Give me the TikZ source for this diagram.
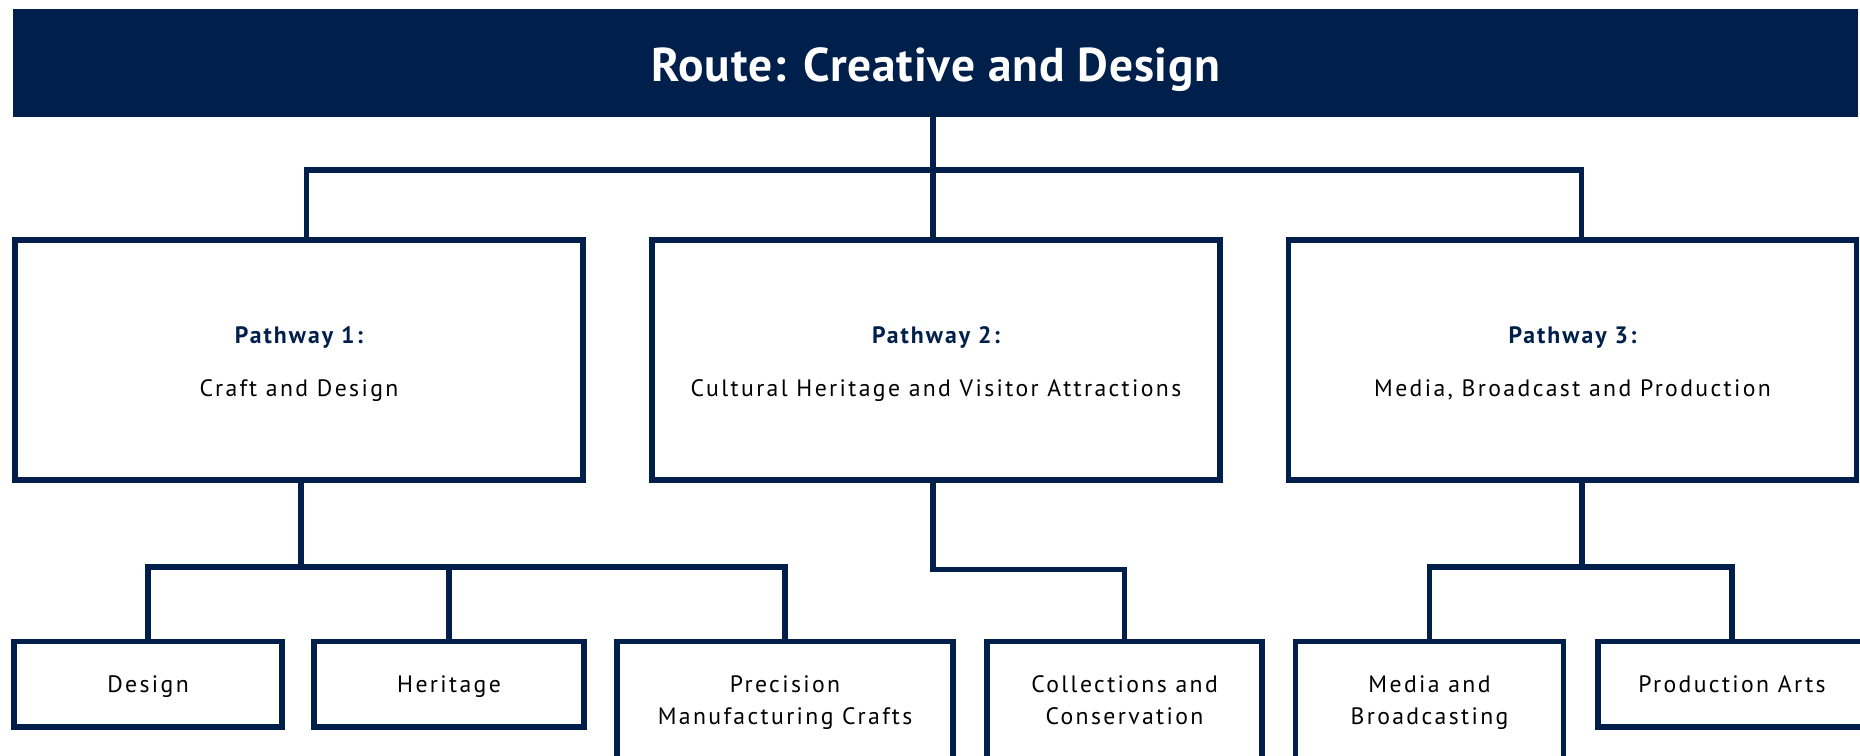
\documentclass[tikz,border=0pt]{standalone}
\usepackage{fontspec}
\setmainfont{PT Sans}
\newfontfamily\routefont[LetterSpace=1.8]{PT Sans}
\newfontfamily\boxfont[LetterSpace=10]{PT Sans}
\newfontfamily\headfont[LetterSpace=8.5]{PT Sans}
\usetikzlibrary{positioning}
\definecolor{navy}{RGB}{0,31,75}
\tikzset{
  banner/.style={fill=navy, minimum width=36.9cm, minimum height=2.16cm},
  bannertext/.style={anchor=base, text=white, font=\routefont\fontsize{27}{32}\selectfont\bfseries},
  pathbox/.style={draw=navy, line width=3pt, minimum width=11.36cm, minimum height=4.8cm},
  headtext/.style={anchor=base, text=navy, font=\headfont\fontsize{13.5}{16}\selectfont\bfseries},
  nametext/.style={anchor=base, font=\boxfont\fontsize{13.5}{16}\selectfont},
  leafbox/.style={draw=navy, line width=3pt, anchor=north, minimum width=5.36cm, minimum height=1.72cm},
  tallbox/.style={leafbox, minimum height=2.35cm},
  leaftext/.style={anchor=base, align=center, font=\boxfont\fontsize{13.5}{18}\selectfont},
  link/.style={navy, line width=3pt}}

\begin{document}
\begin{tikzpicture}[x=0.02cm, y=-0.02cm]
\clip (0,0) rectangle (1860,755);
\fill[white] (0,0) rectangle (1860,755);

% route heading
\node[banner] (route) at (935.5,63) {};
\node[bannertext] (routetxt) at (936,81) {Route: Creative and Design};

% pathways
\node[pathbox] (p1) at (299,360) {};
\node[pathbox] (p2) at (936,360) {};
\node[pathbox] (p3) at (1572.5,360) {};
\node[headtext] (p1head) at (299,343) {Pathway 1:};
\node[headtext] (p2head) at (936,343) {Pathway 2:};
\node[headtext] (p3head) at (1572.5,343) {Pathway 3:};
\node[nametext] (p1name) at (299,396) {Craft and Design};
\node[nametext] (p2name) at (936,396) {Cultural Heritage and Visitor Attractions};
\node[nametext] (p3name) at (1572.5,396) {Media, Broadcast and Production};

% occupational specialisms
\node[leafbox] (design) at (148,638.5) {};
\node[leafbox, minimum width=5.4cm] (heritage) at (449,638.5) {};
\node[tallbox, minimum width=6.72cm] (precision) at (785,638.5) {};
\node[tallbox, minimum width=5.5cm] (collections) at (1124.5,638.5) {};
\node[tallbox] (media) at (1429.5,638.5) {};
\node[leafbox] (prodarts) at (1732,638.5) {};

% base of a two-line label sits on its last line
\node[leaftext] (designtxt) at (148,692) {Design};
\node[leaftext] (heritagetxt) at (449,692) {Heritage};
\node[leaftext] (precisiontxt) at (785,724) {Precision\\Manufacturing Crafts};
\node[leaftext] (collectionstxt) at (1124.5,724) {Collections and\\Conservation};
\node[leaftext] (mediatxt) at (1429.5,724) {Media and\\Broadcasting};
\node[leaftext] (prodartstxt) at (1732,692) {Production Arts};

\coordinate (topbus) at (933,170);
\coordinate (p1bus) at (301,567);
\coordinate (p3bus) at (1582,567);

\draw[link] (route.south -| topbus) -- (topbus |- p2.north);
\draw[link] ([xshift=4.4pt]p1.north) |- (topbus) -| ([xshift=5.1pt]p3.north);

\draw[link] (p1.south -| p1bus) -- (p1bus);
\draw[link] (design.north) |- (p1bus) -| (precision.north);
\draw[link] (heritage.north) -- (heritage.north |- p1bus);

\draw[link] (p2.south -| topbus) -- ++(0,87) -| (collections.north);

\draw[link] (p3.south -| p3bus) -- (p3bus);
\draw[link] (media.north) |- (p3bus) -| (prodarts.north);
\end{tikzpicture}
\end{document}
